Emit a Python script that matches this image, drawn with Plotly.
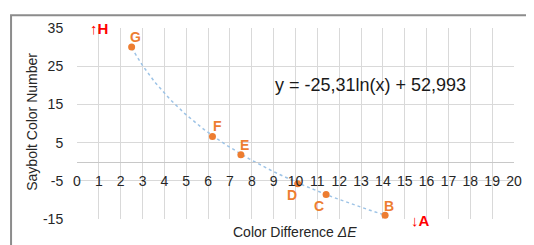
import numpy as np
import plotly.graph_objects as go

# ---- data ----
point_labels = ["G", "F", "E", "D", "C", "B"]
delta_e = [2.5, 6.2, 7.5, 10.1, 11.4, 14.1]
saybolt = [30.0, 6.6, 1.8, -5.8, -8.6, -14.0]
fit_a = -25.31
fit_b = 52.993
equation_text = "y = -25,31ln(x) + 52,993"
x_ticks = list(range(0, 21))
y_ticks = [-15, -5, 5, 15, 25, 35]
x_title = "Color Difference <i>ΔE</i>"
y_title = "Saybolt Color Number"

# label offsets (px)
label_dx = [4, 5, 4, -6, -7, 4]
label_dy = [10, 10, 10, -11, -11, 9]

FONT = "Arial, Liberation Sans, sans-serif"
ORANGE = "#ed7d31"
RED = "#ff0000"
TXT = "#262626"

# figure sized to sit inside the page's 8px body margin
W, H = 526, 237
L, R, T, B = 69, 13, 16, 26
PW, PH = W - L - R, H - T - B


def px_x(p):
    return (p - 8 - L) / PW


def px_y(p):
    return (H - B - (p - 8)) / PH


fig = go.Figure()

xf = np.linspace(min(delta_e), max(delta_e), 200)
yf = fit_a * np.log(xf) + fit_b
fig.add_trace(go.Scatter(x=xf, y=yf, mode="lines",
                         line=dict(color="#9dc3e6", width=1.5, dash="dot"),
                         hoverinfo="skip", showlegend=False))
fig.add_trace(go.Scatter(x=delta_e, y=saybolt, mode="markers",
                         marker=dict(color=ORANGE, size=7),
                         showlegend=False, cliponaxis=False))

annotations = []
for lab, x, y, dx, dy in zip(point_labels, delta_e, saybolt, label_dx, label_dy):
    annotations.append(dict(x=x, y=y, xref="x", yref="y", text=f"<b>{lab}</b>",
                            showarrow=False, xshift=dx, yshift=dy,
                            xanchor="center", yanchor="middle",
                            font=dict(family=FONT, size=14, color=ORANGE)))

annotations.append(dict(x=1.0, y=35, xref="x", yref="y", text="<b>↑H</b>",
                        showarrow=False, xanchor="center", yanchor="middle",
                        font=dict(family=FONT, size=15, color=RED)))
annotations.append(dict(x=15.7, y=-15, xref="x", yref="y", text="<b>↓A</b>",
                        showarrow=False, yshift=-1, xanchor="center", yanchor="middle",
                        font=dict(family=FONT, size=15, color=RED)))
annotations.append(dict(x=px_x(375), y=px_y(82), xref="paper", yref="paper",
                        text=equation_text, showarrow=False,
                        xanchor="center", yanchor="middle",
                        font=dict(family=FONT, size=18, color="#1a1a1a")))
annotations.append(dict(x=px_x(298), y=px_y(232), xref="paper", yref="paper",
                        text=x_title, showarrow=False,
                        xanchor="center", yanchor="middle",
                        font=dict(family=FONT, size=14, color=TXT)))
annotations.append(dict(x=px_x(31), y=px_y(120), xref="paper", yref="paper",
                        text=y_title, textangle=-90, showarrow=False,
                        xanchor="center", yanchor="middle",
                        font=dict(family=FONT, size=14, color=TXT)))

shapes = [
    dict(type="rect", xref="paper", yref="paper", layer="above",
         x0=px_x(10), x1=px_x(560), y0=px_y(11), y1=px_y(270),
         line=dict(color="#8c8c8c", width=2), fillcolor="rgba(0,0,0,0)"),
]

fig.update_layout(
    width=W, height=H,
    margin=dict(l=L, r=R, t=T, b=B),
    paper_bgcolor="white", plot_bgcolor="white",
    font=dict(family=FONT, size=14, color=TXT),
    annotations=annotations, shapes=shapes,
    xaxis=dict(range=[0, 20], tickvals=x_ticks, ticktext=[str(t) for t in x_ticks],
               showgrid=True, gridcolor="#d9d9d9", gridwidth=1,
               zeroline=False, anchor="free", position=0.3,
               showline=True, linecolor="#c8c8c8", linewidth=1,
               ticks="outside", ticklen=6, tickcolor="rgba(0,0,0,0)",
               tickfont=dict(family=FONT, size=14, color=TXT), fixedrange=True),
    yaxis=dict(range=[-15, 35], tickvals=y_ticks, ticktext=[str(t) for t in y_ticks],
               showgrid=True, gridcolor="#d9d9d9", gridwidth=1, zeroline=False,
               showline=False, ticks="outside", ticklen=10,
               tickcolor="rgba(0,0,0,0)",
               tickfont=dict(family=FONT, size=14, color=TXT), fixedrange=True),
)

fig.write_html("out.html")
